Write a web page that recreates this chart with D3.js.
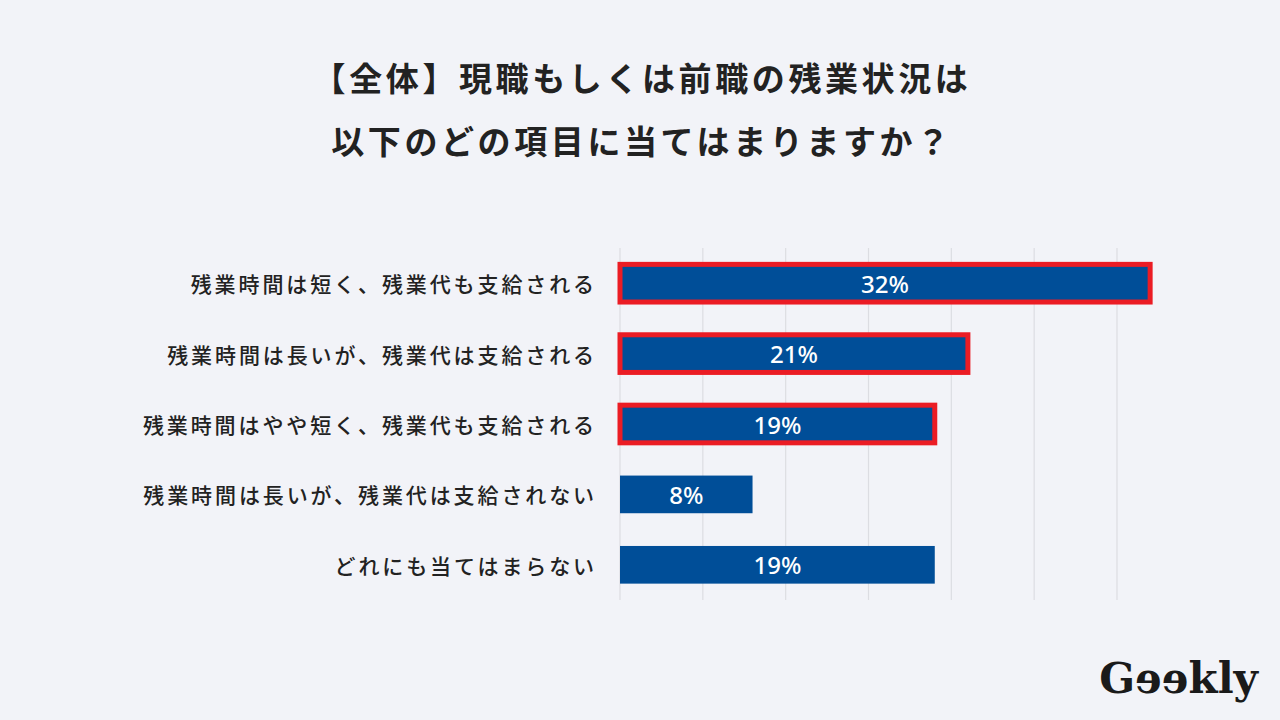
<!DOCTYPE html>
<html lang="ja">
<head>
<meta charset="utf-8">
<script src="https://cdn.jsdelivr.net/npm/d3@7"></script>
<style>
  html, body { margin: 0; padding: 0; background: #f2f3f8; }
  svg { display: block; }
</style>
</head>
<body>
<svg id="chart" width="1280" height="720"></svg>
<script>
const titleLines = ["【全体】現職もしくは前職の残業状況は", "以下のどの項目に当てはまりますか？"];
const categories = [
  "残業時間は短く、残業代も支給される",
  "残業時間は長いが、残業代は支給される",
  "残業時間はやや短く、残業代も支給される",
  "残業時間は長いが、残業代は支給されない",
  "どれにも当てはまらない"
];
const values = [32, 21, 19, 8, 19];
const highlighted = [true, true, true, false, false];
const gridTicks = [0, 5, 10, 15, 20, 25, 30];
const logoText = "Gɘɘkly";

const svg = d3.select("#chart");
const W = 1280, H = 720;
const cjk = "'Noto Sans CJK JP', 'Noto Sans', sans-serif";

svg.append("rect").attr("width", W).attr("height", H).attr("fill", "#f2f3f8");

// Title
svg.append("g").selectAll("text").data(titleLines).join("text")
  .attr("x", 642)
  .attr("y", (d, i) => 77 + i * 63)
  .attr("text-anchor", "middle")
  .attr("dominant-baseline", "central")
  .attr("font-family", cjk)
  .attr("font-weight", 700)
  .attr("font-size", 33)
  .attr("letter-spacing", 3.6)
  .attr("fill", "#222")
  .text(d => d);

const x = d3.scaleLinear().domain([0, 30]).range([620, 1117]);
const y = d3.scaleBand().domain(categories).range([248, 600])
  .paddingInner(0.465).paddingOuter(0.2325);

// Gridlines
svg.append("g").selectAll("line").data(gridTicks).join("line")
  .attr("x1", d => x(d)).attr("x2", d => x(d))
  .attr("y1", 248).attr("y2", 600)
  .attr("stroke", "#dcdde2").attr("stroke-width", 1.2);

// Bars
svg.append("g").selectAll("rect").data(categories).join("rect")
  .attr("x", x(0))
  .attr("y", d => y(d))
  .attr("width", (d, i) => x(values[i]) - x(0))
  .attr("height", y.bandwidth())
  .attr("fill", "#004e98")
  .attr("stroke", (d, i) => highlighted[i] ? "#eb1c24" : "none")
  .attr("stroke-width", 5);

// Category labels
svg.append("g").selectAll("text").data(categories).join("text")
  .attr("x", 597)
  .attr("y", d => y(d) + y.bandwidth() / 2)
  .attr("text-anchor", "end")
  .attr("dominant-baseline", "central")
  .attr("font-family", cjk)
  .attr("font-weight", 500)
  .attr("font-size", 21)
  .attr("letter-spacing", 2.9)
  .attr("fill", "#222")
  .text(d => d);

// Value labels
svg.append("g").selectAll("text").data(categories).join("text")
  .attr("x", (d, i) => (x(0) + x(values[i])) / 2)
  .attr("y", d => y(d) + y.bandwidth() / 2)
  .attr("text-anchor", "middle")
  .attr("dominant-baseline", "central")
  .attr("font-family", "'Noto Sans', sans-serif")
  .attr("font-weight", 500)
  .attr("font-size", 24)
  .attr("fill", "#ffffff")
  .text((d, i) => values[i] + "%");

// Logo
svg.append("text")
  .attr("x", 1258).attr("y", 693)
  .attr("text-anchor", "end")
  .attr("font-family", "'DejaVu Serif', serif")
  .attr("font-weight", 700)
  .attr("font-size", 42)
  .attr("fill", "#1a1a1a")
  .text(logoText);
</script>
</body>
</html>
